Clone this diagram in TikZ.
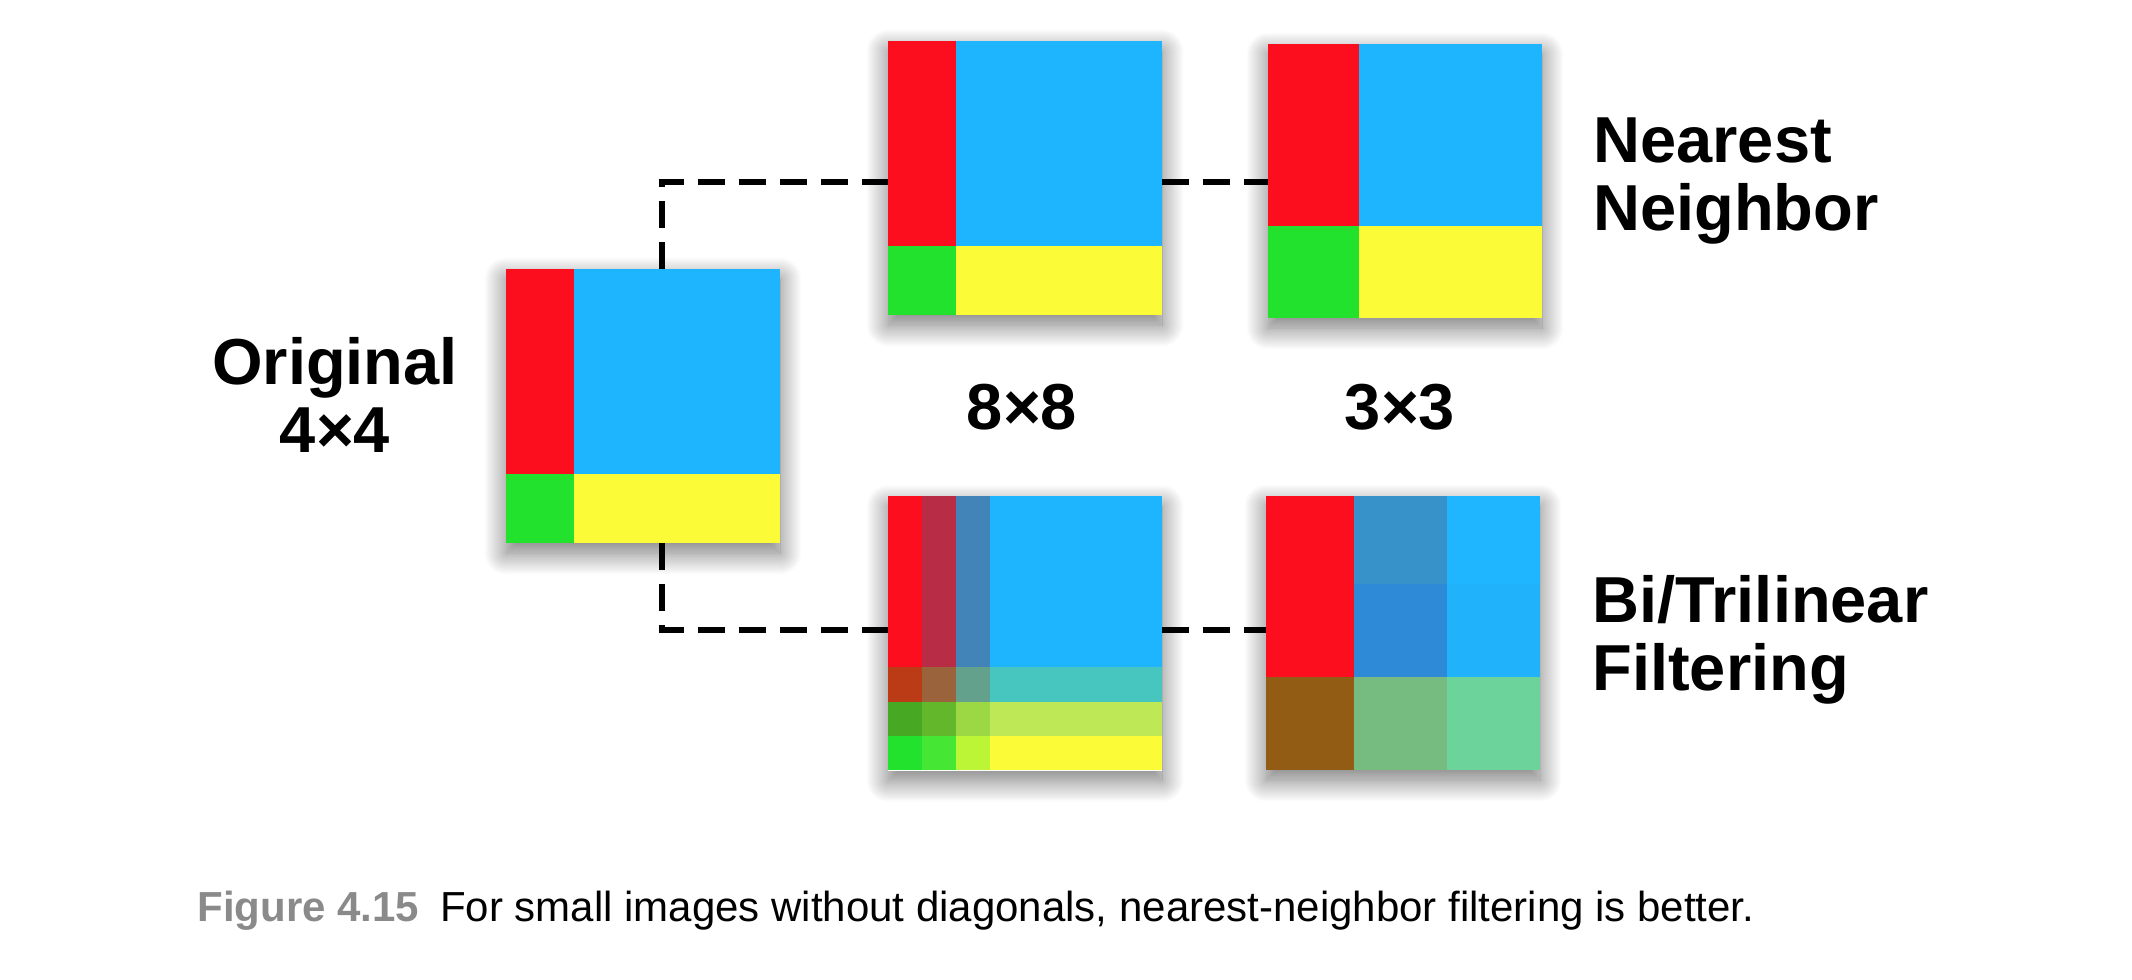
\documentclass[tikz,border=0pt]{standalone}
\usepackage{fontspec}
\setmainfont{Liberation Sans}
\usetikzlibrary{shadows.blur}

\definecolor{cred}{HTML}{FD0E1F}
\definecolor{cblue}{HTML}{1FB5FE}
\definecolor{cgreen}{HTML}{22E22E}
\definecolor{cyellow}{HTML}{FBFB37}
\definecolor{capgray}{HTML}{8A8A8A}
% bilinear 8x8
\definecolor{bla00}{HTML}{FD0E1F}
\definecolor{bla01}{HTML}{B82C45}
\definecolor{bla02}{HTML}{4283B8}
\definecolor{bla03}{HTML}{1FB5FE}
\definecolor{bla10}{HTML}{BB3B17}
\definecolor{bla11}{HTML}{9A633B}
\definecolor{bla12}{HTML}{63A18D}
\definecolor{bla13}{HTML}{47C6C0}
\definecolor{bla20}{HTML}{46A823}
\definecolor{bla21}{HTML}{62B72B}
\definecolor{bla22}{HTML}{9CD844}
\definecolor{bla23}{HTML}{BEE856}
\definecolor{bla30}{HTML}{22E22E}
\definecolor{bla31}{HTML}{46E734}
\definecolor{bla32}{HTML}{BCF535}
\definecolor{bla33}{HTML}{FBFB37}
% bilinear 3x3
\definecolor{blb00}{HTML}{FD0E1F}
\definecolor{blb01}{HTML}{3792CA}
\definecolor{blb02}{HTML}{20B6FF}
\definecolor{blb10}{HTML}{FD0E1F}
\definecolor{blb11}{HTML}{2E8AD7}
\definecolor{blb12}{HTML}{20B3FC}
\definecolor{blb20}{HTML}{925C14}
\definecolor{blb21}{HTML}{76BC80}
\definecolor{blb22}{HTML}{6CD49B}

\begin{document}
\begin{tikzpicture}[
    x=0.5pt, y=-0.5pt,
    picbox/.style={minimum width=137pt, minimum height=137pt, inner sep=0pt, fill=white,
        blur shadow={shadow xshift=0pt, shadow yshift=-5pt, shadow blur radius=11pt,
                     shadow blur steps=24, shadow opacity=55}},
    bigtext/.style={font=\bfseries\fontsize{32.5}{33.7}\selectfont, inner sep=0pt},
    dashline/.style={line width=3pt, dash pattern=on 13.5pt off 7pt}
]
\useasboundingbox (0,0) rectangle (2132,980);

\node[picbox] (orig) at (643,406) {};
\node[picbox] (nn8) at (1025,178) {};
\node[picbox] (nn3) at (1405,181) {};
\node[picbox] (bl8) at (1025,633.5) {};
\node[picbox] (bl3) at (1403,633) {};

\foreach \p in {orig,nn8} {
  \fill[cred] (\p.north west) rectangle ++(68.5,205.5);
  \fill[cblue] ([shift={(68.5,0)}]\p.north west) rectangle ++(205.5,205.5);
  \fill[cgreen] ([shift={(0,205.5)}]\p.north west) rectangle ++(68.5,68.5);
  \fill[cyellow] ([shift={(68.5,205.5)}]\p.north west) rectangle ++(205.5,68.5);
}

\fill[cred] (nn3.north west) rectangle ++(91.3,182.7);
\fill[cblue] ([shift={(91.3,0)}]nn3.north west) rectangle ++(182.7,182.7);
\fill[cgreen] ([shift={(0,182.7)}]nn3.north west) rectangle ++(91.3,91.3);
\fill[cyellow] ([shift={(91.3,182.7)}]nn3.north west) rectangle ++(182.7,91.3);

\foreach \r/\y/\h in {0/0/171.25, 1/171.25/34.25, 2/205.5/34.25, 3/239.75/34.25}
  \foreach \k/\x/\w in {0/0/34.25, 1/34.25/34.25, 2/68.5/34.25, 3/102.75/171.25}
    \fill[fill=bla\r\k] ([shift={(\x,\y)}]bl8.north west) rectangle ++(\w,\h);

\foreach \r/\y/\h in {0/0/88, 1/88/93, 2/181/93}
  \foreach \k/\x/\w in {0/0/88, 1/88/93, 2/181/93}
    \fill[fill=blb\r\k] ([shift={(\x,\y)}]bl3.north west) rectangle ++(\w,\h);

\draw[dashline] ([xshift=9.5pt]orig.north) |- ([yshift=-2pt]nn8.west);
\draw[dashline] ([yshift=-2pt]nn8.east) -- ([yshift=-0.5pt]nn3.west);
\draw[dashline] ([xshift=9.5pt]orig.south) |- ([yshift=1.75pt]bl8.west);
\draw[dashline] ([yshift=1.75pt]bl8.east) -- ([yshift=1.5pt]bl3.west);

\node[bigtext, align=center, anchor=base] (origtxt) at (335,452) {Original\\4×4};
\node[bigtext, anchor=base] (size8) at (1022,429) {8×8};
\node[bigtext, anchor=base] (size3) at (1400,429) {3×3};
\node[bigtext, align=left, anchor=base west] (nntxt) at (1593,230) {Nearest\\Neighbor};
\node[bigtext, align=left, anchor=base west] (bltxt) at (1592,690) {Bi/Trilinear\\Filtering};

\node[anchor=base west, inner sep=0pt, font=\fontsize{21}{25}\selectfont] (caption) at (197,921)
  {\textcolor{capgray}{\bfseries Figure 4.15}\hspace{0.5em}For small images without diagonals, nearest-neighbor filtering is better.};

\end{tikzpicture}
\end{document}
